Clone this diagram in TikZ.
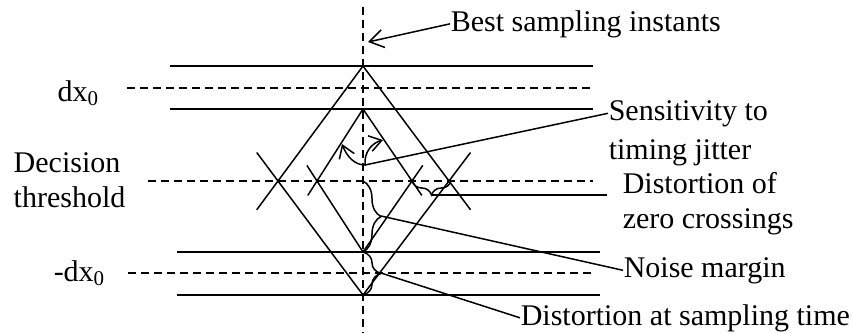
\documentclass[tikz,border=0pt]{standalone}
\usepackage{fontspec}
\setmainfont{Liberation Serif}
\usetikzlibrary{calc,arrows.meta,decorations.pathreplacing}

\begin{document}
\begin{tikzpicture}[x=0.5pt,y=-0.5pt,line width=0.75pt,
  lbl/.style={inner sep=0pt,anchor=base west,font=\fontsize{15}{17}\selectfont},
  dashln/.style={dash pattern=on 4pt off 2.5pt},
  curly/.style={decorate,decoration={brace,amplitude=#1}}]
\useasboundingbox (0,0) rectangle (853,333);

% signal levels and threshold
\draw (170,66) -- (593,66);
\draw[dashln] (127,88) -- (593,88);
\draw (170,109) -- (593,109);
\draw[dashln] (148,181) -- (593,181);
\draw (177,252) -- (600,252);
\draw[dashln] (128,273) -- (593,273);
\draw (177,295) -- (600,295);
\draw[dashln] (363,7) -- (363,333);

% eye opening
\coordinate (T1) at (363,66);
\coordinate (B1) at (363,295);
\coordinate (L1) at (278,181);
\coordinate (R1) at (449,181);
\coordinate (T2) at (363,109);
\coordinate (B2) at (363,252);
\coordinate (L2) at (317,181);
\coordinate (R2) at (412,181);
\draw (T1) -- ($(T1)!1.25!(L1)$);
\draw (B1) -- ($(B1)!1.25!(L1)$);
\draw (T1) -- ($(T1)!1.25!(R1)$);
\draw (B1) -- ($(B1)!1.25!(R1)$);
\draw (T2) -- ($(T2)!1.2!(L2)$);
\draw (B2) -- ($(B2)!1.22!(L2)$);
\draw (T2) -- ($(T2)!1.2!(R2)$);
\draw (B2) -- ($(B2)!1.22!(R2)$);

% labels
\node[lbl] (dxp) at (57,101) {dx\textsubscript{0}};
\node[lbl] (dec) at (13,172) {Decision};
\node[lbl] (thr) at (13,207) {threshold};
\node[lbl] (dxm) at (53,281) {-dx\textsubscript{0}};
\node[lbl] (best) at (450,31) {Best sampling instants};
\node[lbl] (sens) at (608,120) {Sensitivity to};
\node[lbl] (sens2) at (608,159) {timing jitter};
\node[lbl] (dzc) at (622,193) {Distortion of};
\node[lbl] (dzc2) at (622,228) {zero crossings};
\node[lbl] (noise) at (623,277) {Noise margin};
\node[lbl] (dst) at (520,325) {Distortion at sampling time};

% best sampling instant
\coordinate (bsi) at (368,42);
\draw[-{Straight Barb[length=7pt,width=9pt]}] (best.west) -- (bsi);

% timing jitter
\coordinate (sjl) at (342,144);
\coordinate (cusp) at (365,165);
\coordinate (sjr) at (383,140);
\draw[{Straight Barb[length=6pt,width=8pt]}-{Straight Barb[length=6pt,width=8pt]}]
  (sjl) .. controls (347,157) and (355,165) .. (cusp)
  .. controls (364,152) and (372,143) .. (sjr);
\draw (cusp) -- (sens.west);

% zero crossings
\draw[curly=7pt,decoration={mirror}] (R2) -- (451,181);
\coordinate (zctip) at (432,195);
\coordinate (zcend) at (607,195);
\draw (zctip) -- (zcend);

% noise margin
\draw[curly=9pt] (363,181) -- (B2);
\coordinate (nmtip) at (381,216);
\draw (nmtip) -- (noise.west);

% distortion at sampling time
\draw[curly=9pt] (B2) -- (B1);
\coordinate (dstip) at (381,273);
\draw (dstip) -- (dst.west);
\end{tikzpicture}
\end{document}
